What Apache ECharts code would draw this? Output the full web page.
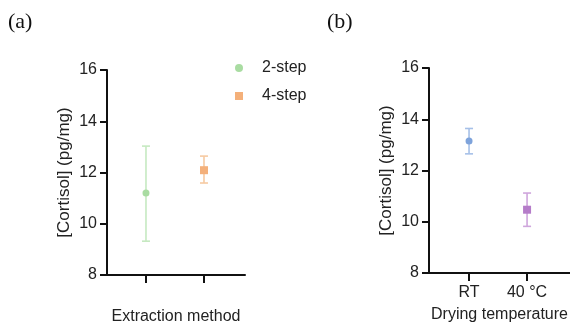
<!DOCTYPE html>
<html><head><meta charset="utf-8">
<script src="https://cdn.jsdelivr.net/npm/echarts@6/dist/echarts.min.js"></script>
<style>html,body{margin:0;padding:0;background:#fff}#c{width:570px;height:324px}</style>
</head><body><div id="c"></div>
<script>
// Panel (a): extraction method
const methodNames = ['2-step', '4-step'];
const methodMean = [11.2, 12.09];
const methodLow = [9.32, 11.59];
const methodHigh = [13.03, 12.64];
// Panel (b): drying temperature
const tempLabels = ['RT', '40 °C'];
const tempMean = [13.15, 10.47];
const tempLow = [12.65, 9.82];
const tempHigh = [13.64, 11.12];
const yTicks = [8, 10, 12, 14, 16];

const FONT = '"Liberation Sans", Arial, sans-serif';
const markColors = ['#a9dca2', '#f4b07a', '#7ea3db', '#b57cc9'];
const barColors = ['#c6e9c1', '#f6caa2', '#a6c0e8', '#cfa6dc'];

function errSeries(xi, gi, lo, hi, color) {
  return {
    type: 'custom', xAxisIndex: gi, yAxisIndex: gi, silent: true, z: 1,
    data: [[xi, lo, hi]],
    renderItem: function (params, api) {
      const top = api.coord([api.value(0), api.value(2)]);
      const bot = api.coord([api.value(0), api.value(1)]);
      const w = 4;
      const st = { stroke: color, lineWidth: 1.6 };
      return { type: 'group', children: [
        { type: 'line', shape: { x1: top[0], y1: top[1], x2: bot[0], y2: bot[1] }, style: st },
        { type: 'line', shape: { x1: top[0] - w, y1: top[1], x2: top[0] + w, y2: top[1] }, style: st },
        { type: 'line', shape: { x1: bot[0] - w, y1: bot[1], x2: bot[0] + w, y2: bot[1] }, style: st }
      ]};
    }
  };
}

function yAxis(gi) {
  return {
    type: 'value', gridIndex: gi, min: 8, max: 16, interval: 2,
    name: '[Cortisol] (pg/mg)', nameLocation: 'middle', nameGap: 34,
    nameTextStyle: { fontFamily: FONT, fontSize: 17, color: '#222' },
    axisLine: { show: true, lineStyle: { color: '#111', width: 2 } },
    axisTick: { show: true, length: 7, lineStyle: { color: '#111', width: 2 } },
    axisLabel: { fontFamily: FONT, fontSize: 16, color: '#222', margin: 10,
      customValues: yTicks },
    splitLine: { show: false }
  };
}

function xAxis(gi, min, max, labels, name) {
  return {
    type: 'value', gridIndex: gi, min: min, max: max,
    name: name, nameLocation: 'middle', nameGap: 34,
    nameTextStyle: { fontFamily: FONT, fontSize: 16, color: '#222' },
    axisLine: { show: true, lineStyle: { color: '#111', width: 2 } },
    axisTick: { show: true, length: 8, lineStyle: { color: '#111', width: 2 }, customValues: [1, 2] },
    axisLabel: { show: labels != null, fontFamily: FONT, fontSize: 16, color: '#222', margin: 12,
      customValues: [1, 2],
      formatter: function (v) { return labels ? labels[Math.round(v) - 1] : ''; } },
    splitLine: { show: false }
  };
}

const chart = echarts.init(document.getElementById('c'), null, { renderer: 'canvas' });
const series = [];
// panel a
series.push(errSeries(1, 0, methodLow[0], methodHigh[0], barColors[0]));
series.push(errSeries(2, 0, methodLow[1], methodHigh[1], barColors[1]));
series.push({ name: methodNames[0], type: 'scatter', xAxisIndex: 0, yAxisIndex: 0, symbol: 'circle', symbolSize: 7,
  itemStyle: { color: markColors[0], opacity: 1 }, data: [[1, methodMean[0]]], z: 3 });
series.push({ name: methodNames[1], type: 'scatter', xAxisIndex: 0, yAxisIndex: 0, symbol: 'rect', symbolSize: 8,
  itemStyle: { color: markColors[1], opacity: 1 }, data: [[2, methodMean[1]]], z: 3 });
// panel b
series.push(errSeries(1, 1, tempLow[0], tempHigh[0], barColors[2]));
series.push(errSeries(2, 1, tempLow[1], tempHigh[1], barColors[3]));
series.push({ name: tempLabels[0], type: 'scatter', xAxisIndex: 1, yAxisIndex: 1, symbol: 'circle', symbolSize: 7,
  itemStyle: { color: markColors[2], opacity: 1 }, data: [[1, tempMean[0]]], z: 3 });
series.push({ name: tempLabels[1], type: 'scatter', xAxisIndex: 1, yAxisIndex: 1, symbol: 'rect', symbolSize: 8,
  itemStyle: { color: markColors[3], opacity: 1 }, data: [[2, tempMean[1]]], z: 3 });

chart.setOption({
  animation: false,
  backgroundColor: '#fff',
  grid: [
    { left: 107, top: 70, width: 138, height: 205, containLabel: false, outerBoundsMode: 'none' },
    { left: 429, top: 68, width: 141, height: 205, containLabel: false, outerBoundsMode: 'none' }
  ],
  xAxis: [
    xAxis(0, 0.328, 2.707, null, 'Extraction method'),
    xAxis(1, 0.31, 2.74, tempLabels, 'Drying temperature')
  ],
  yAxis: [yAxis(0), yAxis(1)],
  legend: {
    data: methodNames, orient: 'vertical', left: 230, top: 55,
    itemWidth: 8, itemHeight: 8, itemGap: 12,
    textStyle: { fontFamily: FONT, fontSize: 16, color: '#222', padding: [0, 0, 0, 14] },
    selectedMode: false
  },
  graphic: [
    { type: 'text', left: 8, top: 11, style: { text: '(a)', font: '22px "Liberation Serif", "Times New Roman", serif', fill: '#111' } },
    { type: 'text', left: 327, top: 11, style: { text: '(b)', font: '22px "Liberation Serif", "Times New Roman", serif', fill: '#111' } }
  ],
  series: series
});
</script></body></html>
